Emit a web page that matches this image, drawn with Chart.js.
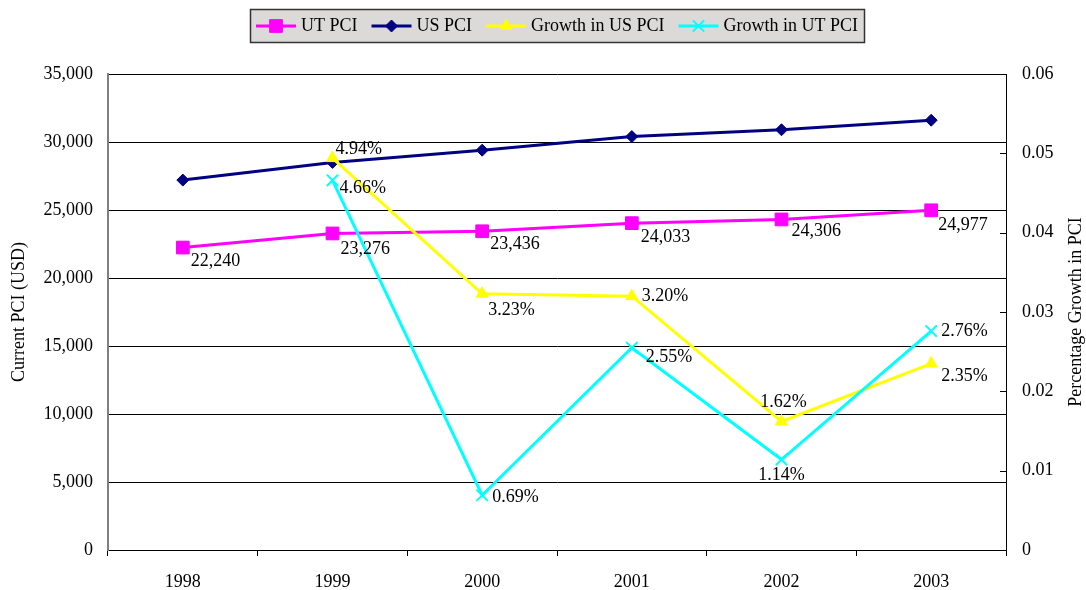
<!DOCTYPE html>
<html>
<head>
<meta charset="utf-8">
<script src="https://cdn.jsdelivr.net/npm/chart.js@4"></script>
<style>
  html, body { margin: 0; padding: 0; background: #ffffff; }
  #wrap { width: 1086px; height: 590px; }
</style>
</head>
<body>
<div id="wrap"><canvas id="c" width="1086" height="590"></canvas></div>
<script>
// ---- data ----
const years = ['1998', '1999', '2000', '2001', '2002', '2003'];
const utPCI = [22240, 23276, 23436, 24033, 24306, 24977];
const usPCI = [27200, 28500, 29400, 30400, 30900, 31600];
const growthUS = [null, 0.0494, 0.0323, 0.0320, 0.0162, 0.0235];
const growthUT = [null, 0.0466, 0.0069, 0.0255, 0.0114, 0.0276];
const seriesNames = ['UT PCI', 'US PCI', 'Growth in US PCI', 'Growth in UT PCI'];
const leftTitle = 'Current PCI (USD)';
const rightTitle = 'Percentage Growth in PCI';

// ---- styling ----
const FONT = "'Liberation Serif', 'DejaVu Serif', serif";
const FS = 18;
const colors = ['#FF00FF', '#000080', '#FFFF00', '#00FFFF'];

// label placements (offsets from each point, px) – style only
const labelPlacement = {
  0: [[8,14,'left'],[8,16,'left'],[8,13,'left'],[9,14,'left'],[10,12,'left'],[7,15,'left']],
  2: [null,[3,-9,'left'],[6,17,'left'],[10,0,'left'],[2,-19,'center'],[10,13,'left']],
  3: [null,[7,8,'left'],[10,2,'left'],[14,10,'left'],[0,16,'center'],[10,0,'left']]
};
const labelFormat = {
  0: v => v.toLocaleString('en-US'),
  2: v => (v * 100).toFixed(2) + '%',
  3: v => (v * 100).toFixed(2) + '%'
};

const dataLabelPlugin = {
  id: 'dataLabels',
  afterDatasetsDraw(chart) {
    const ctx = chart.ctx;
    ctx.save();
    ctx.font = FS + 'px ' + FONT;
    ctx.fillStyle = '#000';
    ctx.textBaseline = 'middle';
    Object.keys(labelPlacement).forEach(k => {
      const di = +k;
      const meta = chart.getDatasetMeta(di);
      const vals = chart.data.datasets[di].data;
      meta.data.forEach((pt, i) => {
        const pl = labelPlacement[di][i];
        if (!pl || vals[i] == null) return;
        ctx.textAlign = pl[2];
        ctx.fillText(labelFormat[di](vals[i]), pt.x + pl[0], pt.y + pl[1]);
      });
    });
    ctx.restore();
  }
};

const decorPlugin = {
  id: 'decor',
  afterDraw(chart) {
    const ctx = chart.ctx;
    const ca = chart.chartArea;
    const y1 = chart.scales.y1;
    ctx.save();
    // inward ticks on right axis
    ctx.strokeStyle = '#000';
    ctx.lineWidth = 1;
    y1.ticks.forEach((t, i) => {
      const py = Math.round(y1.getPixelForTick(i)) + 0.5;
      ctx.beginPath();
      ctx.moveTo(ca.right - 6, py);
      ctx.lineTo(ca.right, py);
      ctx.stroke();
    });
    // axis titles
    ctx.fillStyle = '#000';
    ctx.font = FS + 'px ' + FONT;
    ctx.textAlign = 'center';
    ctx.textBaseline = 'middle';
    const cy = (ca.top + ca.bottom) / 2;
    ctx.save();
    ctx.translate(19, cy);
    ctx.rotate(-Math.PI / 2);
    ctx.fillText(leftTitle, 0, 0);
    ctx.restore();
    ctx.save();
    ctx.translate(1076, cy);
    ctx.rotate(-Math.PI / 2);
    ctx.fillText(rightTitle, 0, 0);
    ctx.restore();

    // legend
    ctx.font = FS + 'px ' + FONT;
    const lineLen = 40, gapText = 5, gapItem = 14, pad = 6;
    const widths = chart.data.datasets.map(d => ctx.measureText(d.label).width);
    let total = pad * 2;
    widths.forEach((w, i) => { total += lineLen + gapText + w + (i < widths.length - 1 ? gapItem : 0); });
    total = Math.round(total);
    const cx = (ca.left + ca.right) / 2;
    const bx = Math.round(cx - total / 2), by = 9, bh = 33;
    ctx.fillStyle = '#dcd9d9';
    ctx.fillRect(bx, by, total, bh);
    ctx.strokeStyle = '#333';
    ctx.lineWidth = 1.5;
    ctx.strokeRect(bx + 0.5, by + 0.5, total, bh);
    let x = bx + pad;
    const ly = by + bh / 2 + 0.5;
    chart.data.datasets.forEach((d, i) => {
      ctx.strokeStyle = d.borderColor;
      ctx.lineWidth = d.borderWidth;
      ctx.beginPath();
      ctx.moveTo(x, ly);
      ctx.lineTo(x + lineLen, ly);
      ctx.stroke();
      ctx.fillStyle = d.pointBackgroundColor;
      ctx.strokeStyle = d.pointBorderColor;
      ctx.lineWidth = d.pointBorderWidth;
      Chart.helpers.drawPoint(ctx, {
        pointStyle: d.pointStyle, radius: d.pointRadius, rotation: 0, borderWidth: d.pointBorderWidth
      }, x + lineLen / 2, ly);
      ctx.fillStyle = '#000';
      ctx.textAlign = 'left';
      ctx.fillText(d.label, x + lineLen + gapText, ly);
      x += lineLen + gapText + widths[i] + gapItem;
    });
    ctx.restore();
  }
};

new Chart(document.getElementById('c'), {
  type: 'line',
  data: {
    labels: years,
    datasets: [
      { label: seriesNames[0], data: utPCI, yAxisID: 'y', order: 3,
        borderColor: colors[0], backgroundColor: colors[0], borderWidth: 3,
        pointStyle: 'rect', pointRadius: 9, pointBackgroundColor: colors[0],
        pointBorderColor: colors[0], pointBorderWidth: 1 },
      { label: seriesNames[1], data: usPCI, yAxisID: 'y', order: 2,
        borderColor: colors[1], backgroundColor: colors[1], borderWidth: 3,
        pointStyle: 'rectRot', pointRadius: 6, pointBackgroundColor: colors[1],
        pointBorderColor: colors[1], pointBorderWidth: 1 },
      { label: seriesNames[2], data: growthUS, yAxisID: 'y1', order: 1,
        borderColor: colors[2], backgroundColor: colors[2], borderWidth: 3,
        pointStyle: 'triangle', pointRadius: 7, pointBackgroundColor: colors[2],
        pointBorderColor: colors[2], pointBorderWidth: 1 },
      { label: seriesNames[3], data: growthUT, yAxisID: 'y1', order: 0,
        borderColor: colors[3], backgroundColor: colors[3], borderWidth: 3,
        pointStyle: 'crossRot', pointRadius: 8, pointBackgroundColor: colors[3],
        pointBorderColor: colors[3], pointBorderWidth: 2 }
    ]
  },
  options: {
    responsive: false,
    devicePixelRatio: 1,
    animation: false,
    spanGaps: false,
    layout: { padding: { top: 74, left: 0, right: 0, bottom: 0 } },
    plugins: {
      legend: { display: false },
      tooltip: { enabled: false },
      title: { display: false }
    },
    elements: { line: { tension: 0 } },
    scales: {
      x: {
        type: 'category',
        offset: true,
        grid: { display: true, drawOnChartArea: false, drawTicks: true, tickLength: 6,
                offset: true, color: '#000', lineWidth: 1 },
        border: { display: true, color: '#000', width: 1 },
        ticks: { color: '#000', font: { family: FONT, size: FS }, padding: 15, maxRotation: 0 },
        afterFit: s => { s.height = 40; }
      },
      y: {
        position: 'left',
        min: 0, max: 35000,
        ticks: { stepSize: 5000, color: '#000', font: { family: FONT, size: FS }, padding: 15 },
        grid: { color: '#000', lineWidth: 1, drawTicks: false },
        border: { display: true, color: '#808080', width: 2 },
        afterFit: s => { s.width = 108; }
      },
      y1: {
        position: 'right',
        min: 0, max: 0.06,
        ticks: { stepSize: 0.01, color: '#000', font: { family: FONT, size: FS }, padding: 16 },
        grid: { drawOnChartArea: false, drawTicks: false },
        border: { display: true, color: '#000', width: 1 },
        afterFit: s => { s.width = 80; }
      }
    }
  },
  plugins: [dataLabelPlugin, decorPlugin]
});
</script>
</body>
</html>
